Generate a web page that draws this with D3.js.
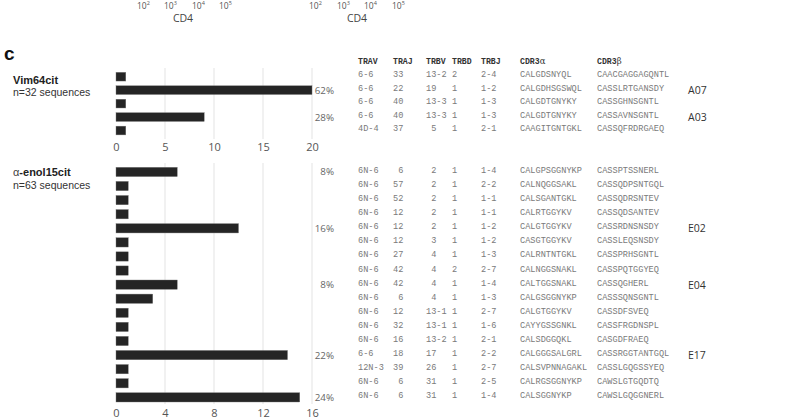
<!DOCTYPE html>
<html>
<head>
<meta charset="utf-8">
<script src="https://cdn.jsdelivr.net/npm/d3@7"></script>
<style>
  html, body { margin: 0; padding: 0; background: #fff; }
  svg { display: block; }
  text { white-space: pre; }
</style>
</head>
<body>
<svg id="chart" width="800" height="419"></svg>
<script>
// ---------- DATA ----------
const flowTicks = ["2", "3", "4", "5"];
const flowAxisLabel = "CD4";

const tableHeaders = ["TRAV", "TRAJ", "TRBV", "TRBD", "TRBJ", "CDR3", "CDR3"];
const tableHeaderGreek = ["", "", "", "", "", "α", "β"];

// Vim64cit
const vimTitle = "Vim64cit";
const vimSubtitle = "n=32 sequences";
const vimCounts = [1, 20, 1, 9, 1];
const vimPct = ["", "62%", "", "28%", ""];
const vimTicks = [0, 5, 10, 15, 20];
const vimTRAV = ["6-6", "6-6", "6-6", "6-6", "4D-4"];
const vimTRAJ = ["33", "22", "40", "40", "37"];
const vimTRBV = ["13-2", "19", "13-3", "13-3", "5"];
const vimTRBD = ["2", "1", "1", "1", "1"];
const vimTRBJ = ["2-4", "1-2", "1-3", "1-3", "2-1"];
const vimCDR3a = ["CALGDSNYQL", "CALGDHSGSWQL", "CALGDTGNYKY", "CALGDTGNYKY", "CAAGITGNTGKL"];
const vimCDR3b = ["CAACGAGGAGQNTL", "CASSLRTGANSDY", "CASSGHNSGNTL", "CASSAVNSGNTL", "CASSQFRDRGAEQ"];
const vimClone = ["", "A07", "", "A03", ""];

// alpha-enol15cit
const enolTitleGreek = "α";
const enolTitle = "-enol15cit";
const enolSubtitle = "n=63 sequences";
const enolCounts = [5, 1, 1, 1, 10, 1, 1, 1, 5, 3, 1, 1, 1, 14, 1, 1, 15];
const enolPct = ["8%", "", "", "", "16%", "", "", "", "8%", "", "", "", "", "22%", "", "", "24%"];
const enolTicks = [0, 4, 8, 12, 16];
const enolTRAV = ["6N-6","6N-6","6N-6","6N-6","6N-6","6N-6","6N-6","6N-6","6N-6","6N-6","6N-6","6N-6","6N-6","6-6","12N-3","6N-6","6N-6"];
const enolTRAJ = ["6","57","52","12","12","12","27","42","42","6","12","32","16","18","39","6","6"];
const enolTRBV = ["2","2","2","2","2","3","4","4","4","4","13-1","13-1","13-2","17","26","31","31"];
const enolTRBD = ["1","1","1","1","1","1","1","2","1","1","1","1","1","1","1","1","1"];
const enolTRBJ = ["1-4","2-2","1-1","1-1","1-2","1-2","1-3","2-7","1-4","1-3","2-7","1-6","2-1","2-2","2-7","2-5","1-4"];
const enolCDR3a = ["CALGPSGGNYKP","CALNQGGSAKL","CALSGANTGKL","CALRTGGYKV","CALGTGGYKV","CASGTGGYKV","CALRNTNTGKL","CALNGGSNAKL","CALTGGSNAKL","CALGSGGNYKP","CALGTGGYKV","CAYYGSSGNKL","CALSDGGQKL","CALGGGSALGRL","CALSVPNNAGAKL","CALRGSGGNYKP","CALSGGNYKP"];
const enolCDR3b = ["CASSPTSSNERL","CASSQDPSNTGQL","CASSQDRSNTEV","CASSQDSANTEV","CASSRDNSNSDY","CASSLEQSNSDY","CASSPRHSGNTL","CASSPQTGGYEQ","CASSQGHERL","CASSSQNSGNTL","CASSDFSVEQ","CASSFRGDNSPL","CASGDFRAEQ","CASSRGGTANTGQL","CASSLGQGSSYEQ","CAWSLGTGQDTQ","CAWSLGQGGNERL"];
const enolClone = ["","","","","E02","","","","E04","","","","","E17","","",""];

// ---------- DRAWING ----------
const svg = d3.select("#chart");
const sans = "'Open Sans', sans-serif";
const arial = "'Liberation Sans', Arial, sans-serif";
const mono = "'Liberation Mono', 'DejaVu Sans Mono', monospace";

// Top remnant of flow panels
function flowAxis(xs, cx) {
  const g = svg.append("g");
  g.selectAll("text.tk").data(flowTicks).join("text")
    .attr("class", "tk")
    .attr("x", (d, i) => xs[i]).attr("y", 8.5)
    .attr("font-family", sans).attr("font-size", 8.5).attr("fill", "#555")
    .text("10")
    .append("tspan").attr("dy", -3.5).attr("font-size", 5.5).text(d => d);
  g.append("text").attr("x", cx).attr("y", 22).attr("text-anchor", "middle")
    .attr("font-family", sans).attr("font-size", 10.5).attr("fill", "#444")
    .text(flowAxisLabel);
}
flowAxis([137, 164, 192, 219], 183);
flowAxis([309, 337, 364, 392], 357);

// Panel letter
svg.append("text").attr("x", 4).attr("y", 60)
  .attr("font-family", arial).attr("font-weight", "bold").attr("font-size", 19).attr("fill", "#111")
  .text("c");

// Table header
const colX = [358, 393, 426, 452, 481, 520, 597];
const hdr = svg.append("g");
tableHeaders.forEach((h, i) => {
  const t = hdr.append("text").attr("x", colX[i]).attr("y", 61)
    .attr("dominant-baseline", "central")
    .attr("font-family", mono).attr("font-weight", "bold").attr("font-size", 8.2).attr("fill", "#333")
    .text(h);
  if (tableHeaderGreek[i]) {
    t.append("tspan").attr("font-family", "'DejaVu Serif', serif").attr("font-weight", "normal")
      .attr("font-size", 8.5).text(tableHeaderGreek[i]);
  }
});

function panel(opts) {
  const x = d3.scaleLinear().domain([0, opts.ticks[opts.ticks.length - 1]]).range([116, 312]);
  const y = d3.scaleBand().domain(d3.range(opts.counts.length))
    .range(opts.yRange).paddingInner(opts.pad).paddingOuter(0);
  const g = svg.append("g");

  // gridlines
  g.selectAll("line.grid").data(opts.ticks.filter(t => t > 0)).join("line")
    .attr("class", "grid")
    .attr("x1", d => x(d)).attr("x2", d => x(d))
    .attr("y1", opts.grid[0]).attr("y2", opts.grid[1])
    .attr("stroke", "#e3e3e3").attr("stroke-width", 1);

  // bars
  g.selectAll("rect.bar").data(opts.counts).join("rect")
    .attr("class", "bar")
    .attr("x", x(0)).attr("y", (d, i) => y(i))
    .attr("width", d => x(d) - x(0)).attr("height", y.bandwidth())
    .attr("fill", "#252525").attr("stroke", "#777").attr("stroke-width", 0.4);

  // axis
  const ax = g.append("g").attr("transform", `translate(0,${opts.axisY})`)
    .call(d3.axisBottom(x).tickValues(opts.ticks).tickSize(0).tickPadding(3).tickFormat(d3.format("d")));
  ax.select(".domain").remove();
  ax.selectAll("text").attr("font-family", sans).attr("font-size", 11).attr("fill", "#555");

  // percentages
  g.selectAll("text.pct").data(opts.pct).join("text")
    .attr("class", "pct")
    .attr("x", 334).attr("y", (d, i) => y(i) + y.bandwidth() / 2)
    .attr("text-anchor", "end").attr("dominant-baseline", "central")
    .attr("font-family", sans).attr("font-size", 9.8).attr("fill", "#666")
    .text(d => d);

  // titles
  const t1 = g.append("text").attr("x", 13).attr("y", opts.titleY)
    .attr("font-family", arial).attr("font-size", 11).attr("fill", "#222");
  if (opts.titleGreek) t1.append("tspan").attr("font-weight", "normal").attr("fill", "#444").text(opts.titleGreek);
  t1.append("tspan").attr("font-weight", "bold").text(opts.title);
  g.append("text").attr("x", 13).attr("y", opts.titleY + 12.5)
    .attr("font-family", arial).attr("font-size", 10.5).attr("fill", "#333")
    .text(opts.subtitle);

  // table rows
  const cols = [
    opts.trav,
    opts.traj.map(s => s.padStart(2, " ")),
    opts.trbv.map(s => s.padStart(2, " ")),
    opts.trbd,
    opts.trbj,
    opts.cdr3a,
    opts.cdr3b
  ];
  cols.forEach((col, ci) => {
    g.selectAll(`text.c${ci}`).data(col).join("text")
      .attr("class", `c${ci}`)
      .attr("x", colX[ci]).attr("y", (d, i) => y(i) + y.bandwidth() / 2 + opts.rowShift)
      .attr("dominant-baseline", "central")
      .attr("font-family", mono).attr("font-size", 8.6).attr("fill", "#7a7a7a")
      .text(d => d);
  });
  g.selectAll("text.clone").data(opts.clone).join("text")
    .attr("class", "clone")
    .attr("x", 688).attr("y", (d, i) => y(i) + y.bandwidth() / 2)
    .attr("dominant-baseline", "central")
    .attr("font-family", sans).attr("font-size", 10.5).attr("fill", "#333")
    .text(d => d);
}

panel({
  counts: vimCounts, pct: vimPct, ticks: vimTicks,
  yRange: [72.3, 134.9], pad: 0.35, grid: [68, 139], axisY: 140.5,
  title: vimTitle, titleGreek: "", subtitle: vimSubtitle, titleY: 83.5, rowShift: -1.5,
  trav: vimTRAV, traj: vimTRAJ, trbv: vimTRBV, trbd: vimTRBD, trbj: vimTRBJ,
  cdr3a: vimCDR3a, cdr3b: vimCDR3b, clone: vimClone
});

panel({
  counts: enolCounts, pct: enolPct, ticks: enolTicks,
  yRange: [167.3, 402.0], pad: 0.34, grid: [163, 404], axisY: 406,
  title: enolTitle, titleGreek: enolTitleGreek, subtitle: enolSubtitle, titleY: 176, rowShift: -1,
  trav: enolTRAV, traj: enolTRAJ, trbv: enolTRBV, trbd: enolTRBD, trbj: enolTRBJ,
  cdr3a: enolCDR3a, cdr3b: enolCDR3b, clone: enolClone
});
</script>
</body>
</html>
